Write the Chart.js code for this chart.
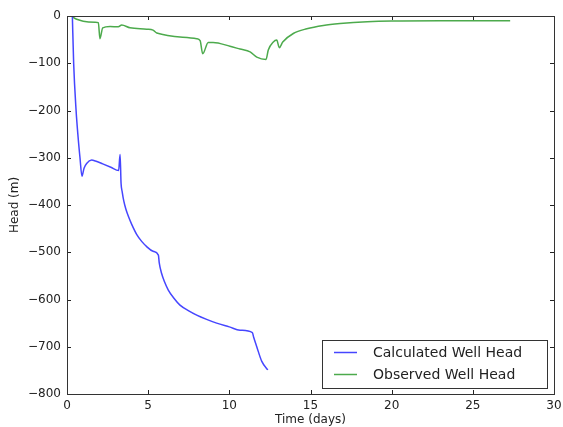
<!DOCTYPE html>
<html>
<head>
<meta charset="utf-8">
<script src="https://cdn.jsdelivr.net/npm/chart.js@4/dist/chart.umd.min.js"></script>
<style>
  html, body { margin: 0; padding: 0; background: #ffffff; }
  canvas { display: block; }
</style>
</head>
<body>
<canvas id="chart" width="563" height="427"></canvas>
<script>
// data
const calcTime = [0.33, 0.41, 0.56, 0.68, 0.80, 0.92, 1.05, 1.21, 1.52, 1.75, 2.2, 2.7, 3.18, 3.27, 3.33, 3.40, 3.50, 3.62, 3.78, 4.0, 4.29, 4.6, 4.91, 5.3, 5.63, 5.68, 5.83, 6.0, 6.24, 6.6, 6.96, 7.5, 7.99, 8.6, 9.22, 10.0, 10.66, 11.42, 11.5, 11.69, 12.0, 12.37];
const calcHead = [0, -100, -200, -255, -300, -339, -322, -312, -305, -307, -313, -320, -327, -293, -354, -372, -392, -408, -424, -442, -462, -477, -488, -498, -506, -522, -545, -562, -580, -598, -612, -624, -633, -642, -650, -658, -665, -670, -680, -700, -731, -749];

const obsTime = [0.33, 0.6, 1.0, 1.73, 1.93, 2.03, 2.2, 2.65, 3.16, 3.37, 3.88, 4.91, 5.3, 5.53, 7.99, 8.2, 8.36, 8.7, 9.0, 10.04, 10.66, 11.28, 11.69, 12.26, 12.4, 12.71, 12.92, 13.08, 13.29, 13.94, 14.77, 15.79, 16.82, 18.5, 20, 23, 27.3];
const obsHead = [-2, -7, -11, -13, -14, -48, -25, -22, -23, -19, -25, -28, -30, -36, -48, -52, -80, -56, -56, -64, -70, -76, -87, -92, -72, -55, -51, -67, -55, -37, -27, -20, -16, -12, -10.5, -10, -10];

const seriesNames = ['Calculated Well Head', 'Observed Well Head'];
const seriesColors = ['#4646ff', '#4caa4c'];
const xTitle = 'Time (days)';
const yTitle = 'Head (m)';

const FONT = 'DejaVu Sans';
const TXT = '#222222';

const toPoints = (xs, ys) => xs.map((x, i) => ({ x: x, y: ys[i] }));

// matplotlib style ticks: inward, on all four sides
const innerTicks = {
  id: 'innerTicks',
  afterDraw(chart) {
    const { ctx, chartArea: a, scales } = chart;
    const len = 4;
    ctx.save();
    ctx.strokeStyle = '#222';
    ctx.lineWidth = 1;
    ctx.beginPath();
    scales.x.ticks.forEach(t => {
      const px = Math.round(scales.x.getPixelForValue(t.value)) + 0.5;
      ctx.moveTo(px, a.bottom); ctx.lineTo(px, a.bottom - len);
      ctx.moveTo(px, a.top); ctx.lineTo(px, a.top + len);
    });
    scales.y.ticks.forEach(t => {
      const py = Math.round(scales.y.getPixelForValue(t.value)) + 0.5;
      ctx.moveTo(a.left, py); ctx.lineTo(a.left + len, py);
      ctx.moveTo(a.right, py); ctx.lineTo(a.right - len, py);
    });
    ctx.stroke();
    // frame
    ctx.strokeStyle = '#333';
    ctx.strokeRect(Math.round(a.left) + 0.5, Math.round(a.top) + 0.5,
                   Math.round(a.right - a.left), Math.round(a.bottom - a.top));
    ctx.restore();
  }
};

// boxed legend in the lower right, like the reference
const boxLegend = {
  id: 'boxLegend',
  afterDraw(chart) {
    const { ctx } = chart;
    const bx = 322.5, by = 340.5, bw = 225, bh = 48;
    ctx.save();
    ctx.fillStyle = '#ffffff';
    ctx.fillRect(bx, by, bw, bh);
    ctx.strokeStyle = '#333';
    ctx.lineWidth = 1;
    ctx.strokeRect(bx, by, bw, bh);
    ctx.font = '14px "' + FONT + '"';
    ctx.textBaseline = 'middle';
    chart.data.datasets.forEach((ds, i) => {
      const y = 352.5 + i * 22;
      ctx.strokeStyle = ds.borderColor;
      ctx.lineWidth = 1.5;
      ctx.beginPath();
      ctx.moveTo(334, y); ctx.lineTo(357, y);
      ctx.stroke();
      ctx.fillStyle = TXT;
      ctx.fillText(ds.label, 373, y + 1);
    });
    ctx.restore();
  }
};

new Chart(document.getElementById('chart'), {
  type: 'line',
  data: {
    datasets: [
      { label: seriesNames[0], data: toPoints(calcTime, calcHead), borderColor: seriesColors[0], borderWidth: 1.5, pointRadius: 0, fill: false, cubicInterpolationMode: 'monotone' },
      { label: seriesNames[1], data: toPoints(obsTime, obsHead), borderColor: seriesColors[1], borderWidth: 1.5, pointRadius: 0, fill: false, cubicInterpolationMode: 'monotone' }
    ]
  },
  options: {
    responsive: false,
    animation: false,
    layout: { padding: { left: 0, right: 9, top: 16, bottom: 0 } },
    plugins: { legend: { display: false }, tooltip: { enabled: false } },
    scales: {
      x: {
        type: 'linear', min: 0, max: 30,
        ticks: { stepSize: 5, color: TXT, font: { family: FONT, size: 12 }, padding: 5, maxRotation: 0 },
        grid: { display: false, drawTicks: false },
        border: { display: false },
        title: { display: true, text: xTitle, color: TXT, font: { family: FONT, size: 12 }, padding: { top: 0, bottom: 0 } },
        afterFit(s) { s.height = 33; s.paddingLeft = 0; s.paddingRight = 9; }
      },
      y: {
        type: 'linear', min: -800, max: 0,
        ticks: { stepSize: 100, color: TXT, font: { family: FONT, size: 12 }, padding: 6,
                 callback: v => String(v).replace('-', '\u2212') },
        grid: { display: false, drawTicks: false },
        border: { display: false },
        title: { display: true, text: yTitle, color: TXT, font: { family: FONT, size: 12 }, padding: { top: 8, bottom: 4 } },
        afterFit(s) { s.width = 67; s.paddingTop = 0; s.paddingBottom = 0; }
      }
    }
  },
  plugins: [innerTicks, boxLegend]
});
</script>
</body>
</html>
